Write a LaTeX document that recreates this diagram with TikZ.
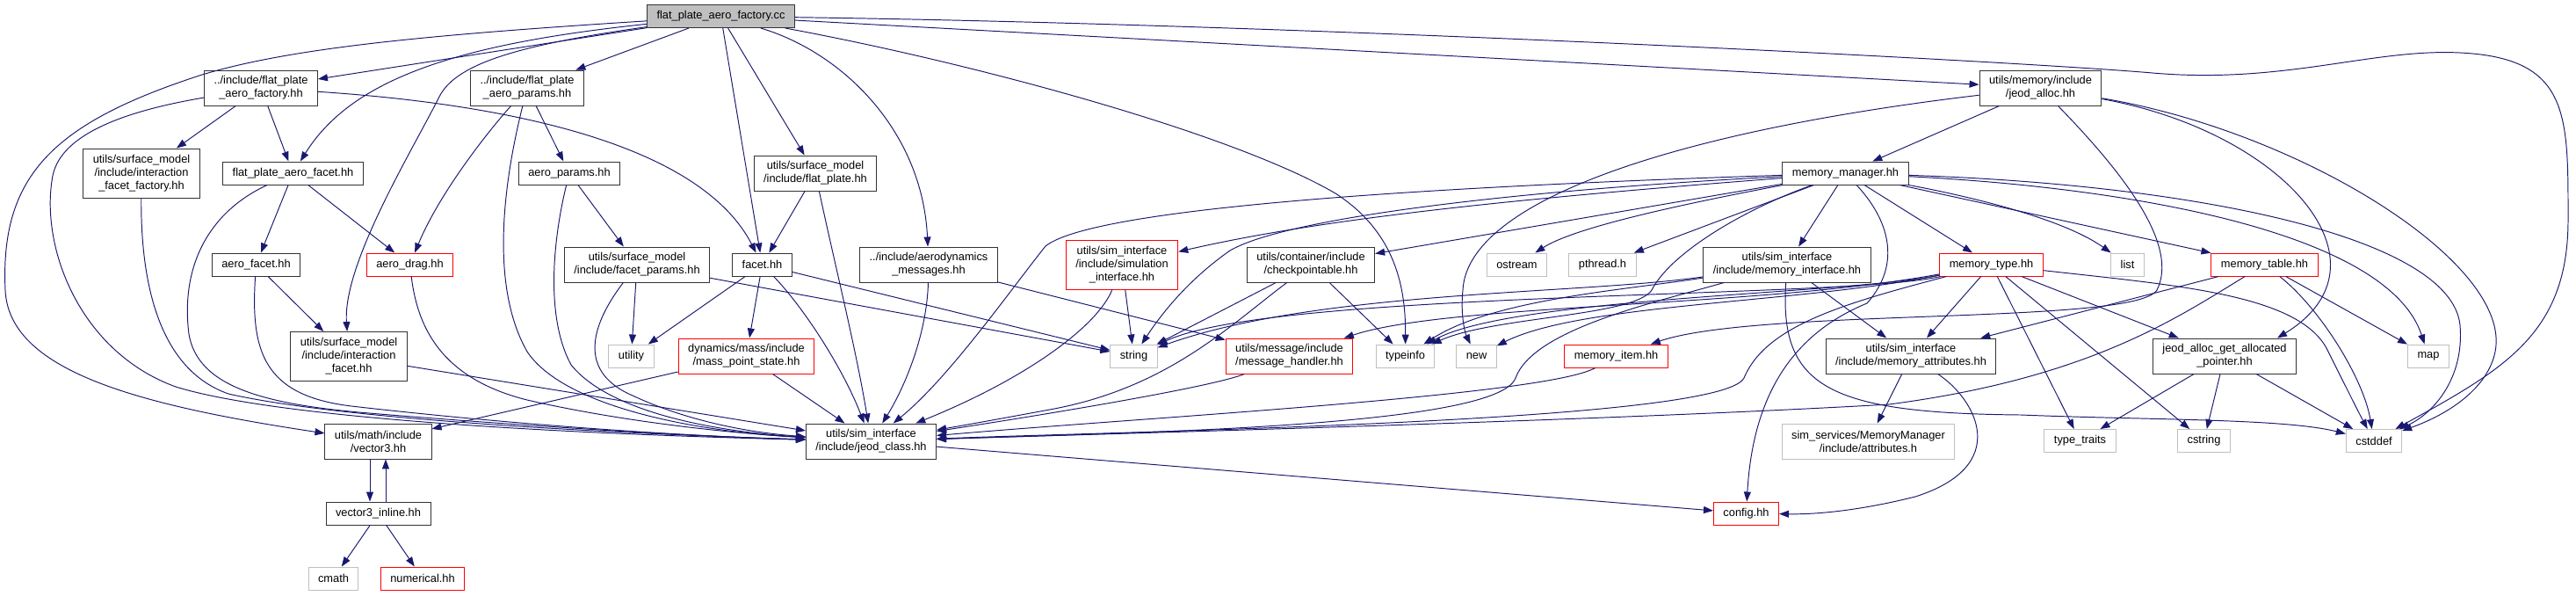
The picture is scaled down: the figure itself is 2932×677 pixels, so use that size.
\documentclass[tikz,border=0pt]{standalone}
\usepackage{fontspec}
\newfontfamily\dotfont{Liberation Sans}
\usetikzlibrary{arrows.meta}
\definecolor{bleunuit}{RGB}{25,25,112}
\definecolor{grisbord}{RGB}{191,191,191}
\definecolor{grisfond}{RGB}{191,191,191}

\begin{document}
\begin{tikzpicture}[
    x=0.02cm, y=-0.02cm,  % une unité = un pixel de l'image
    boite/.style={draw=black!80, fill=white, line width=0.55pt, align=center,
        inner xsep=0.22cm, inner ysep=0pt, font=\dotfont\fontsize{7.3}{8.5}\selectfont},
    gris/.style={boite, draw=grisbord},
    rouge/.style={boite, draw=red},
    racine/.style={boite, fill=grisfond},
    l1/.style={minimum height=0.52cm},
    l2/.style={minimum height=0.8cm},
    l3/.style={minimum height=1.12cm},
    dep/.style={draw=bleunuit, line width=0.55pt, -{Triangle[length=0.22cm,width=0.16cm]}}
]
\useasboundingbox (0,0) rectangle (2932,677);

% Racine
\node[racine, l1] (factorycc) at (820.5,18.5) {flat\_plate\_aero\_factory.cc};

% Niveau 1
\node[boite, l2] (factoryhh) at (297,100) {../include/flat\_plate\\\_aero\_factory.hh};
\node[boite, l2] (paramshh) at (600,100) {../include/flat\_plate\\\_aero\_params.hh};
\node[boite, l2] (jeodalloc) at (2322.5,100) {utils/memory/include\\/jeod\_alloc.hh};

% Niveau 2
\node[boite, l3] (facetfactory) at (161,197) {utils/surface\_model\\/include/interaction\\\_facet\_factory.hh};
\node[boite, l1] (fpfacet) at (333.5,197) {flat\_plate\_aero\_facet.hh};
\node[boite, l1] (aeroparams) at (648,197) {aero\_params.hh};
\node[boite, l2] (flatplate) at (928,197) {utils/surface\_model\\/include/flat\_plate.hh};
\node[boite, l1] (memmanager) at (2100.5,197) {memory\_manager.hh};

% Niveau 3
\node[boite, l1] (aerofacet) at (291.5,301) {aero\_facet.hh};
\node[rouge, l1] (aerodrag) at (466.5,301) {aero\_drag.hh};
\node[boite, l2] (facetparams) at (725,301) {utils/surface\_model\\/include/facet\_params.hh};
\node[boite, l1] (facet) at (867.5,301) {facet.hh};
\node[boite, l2] (aeromsg) at (1057,301) {../include/aerodynamics\\\_messages.hh};
\node[rouge, l3] (siminterface) at (1277,301) {utils/sim\_interface\\/include/simulation\\\_interface.hh};
\node[boite, l2] (checkpointable) at (1492,301) {utils/container/include\\/checkpointable.hh};
\node[gris, l1] (ostream) at (1726.5,301) {ostream};
\node[gris, l1] (pthread) at (1824,301) {pthread.h};
\node[boite, l2] (meminterface) at (2034,301) {utils/sim\_interface\\/include/memory\_interface.hh};
\node[rouge, l1] (memtype) at (2266.5,301) {memory\_type.hh};
\node[gris, l1] (list) at (2421.5,301) {list};
\node[rouge, l1] (memtable) at (2577.5,301) {memory\_table.hh};

% Niveau 4
\node[boite, l3] (interfacet) at (397,405.5) {utils/surface\_model\\/include/interaction\\\_facet.hh};
\node[gris, l1] (utility) at (718.5,405) {utility};
\node[rouge, l2] (masspoint) at (849.5,405) {dynamics/mass/include\\/mass\_point\_state.hh};
\node[gris, l1] (string) at (1290.5,405) {string};
\node[rouge, l2] (msghandler) at (1467.5,405) {utils/message/include\\/message\_handler.hh};
\node[gris, l1] (typeinfo) at (1599.5,405) {typeinfo};
\node[gris, l1] (new) at (1680.5,405) {new};
\node[rouge, l1] (memitem) at (1839.5,405) {memory\_item.hh};
\node[boite, l2] (memattr) at (2175,405) {utils/sim\_interface\\/include/memory\_attributes.hh};
\node[boite, l2] (allocptr) at (2532,405) {jeod\_alloc\_get\_allocated\\\_pointer.hh};
\node[gris, l1] (map) at (2764,405) {map};

% Niveau 5
\node[boite, l2] (vector3) at (430.5,502) {utils/math/include\\/vector3.hh};
\node[boite, l2] (jeodclass) at (991.5,502) {utils/sim\_interface\\/include/jeod\_class.hh};
\node[gris, l2] (attributes) at (2126.5,502) {sim\_services/MemoryManager\\/include/attributes.h};
\node[gris, l1] (typetraits) at (2367.5,501.5) {type\_traits};
\node[gris, l1] (cstring) at (2508.5,501.5) {cstring};
\node[gris, l1] (cstddef) at (2702,501.5) {cstddef};

% Niveaux 6 et 7
\node[boite, l1] (v3inline) at (430.5,584) {vector3\_inline.hh};
\node[rouge, l1] (config) at (1987.5,584) {config.hh};
\node[gris, l1] (cmath) at (379.5,658) {cmath};
\node[rouge, l1] (numerical) at (481,658) {numerical.hh};

% Dépendances de la racine
\draw[dep] (factorycc) .. controls (480,40) and (330,55) .. (230,85) .. controls (60,140) and (0,200) .. (6,330) .. controls (10,420) and (150,460) .. (vector3);
\draw[dep] (factorycc) -- (factoryhh);
\draw[dep] (factorycc) .. controls (520,50) and (400,90) .. (fpfacet);
\draw[dep] (factorycc) .. controls (600,50) and (520,70) .. (500,110) .. controls (470,170) and (390,300) .. (interfacet);
\draw[dep] (factorycc) -- (paramshh);
\draw[dep] (factorycc) -- (facet);
\draw[dep] (factorycc) -- (flatplate);
\draw[dep] (factorycc) .. controls (960,60) and (1050,150) .. (aeromsg);
\draw[dep] (factorycc) .. controls (1100,70) and (1400,150) .. (1520,220) .. controls (1590,265) and (1600,330) .. (typeinfo);
\draw[dep] (factorycc) -- (jeodalloc);
\draw[dep] (factorycc) .. controls (1500,28) and (2300,70) .. (2450,83) .. controls (2600,96) and (2700,55) .. (2800,60) .. controls (2925,66) and (2923,130) .. (2923,250) .. controls (2923,380) and (2850,420) .. (cstddef);

% Partie aérodynamique
\draw[dep] (factoryhh) -- (facetfactory);
\draw[dep] (factoryhh) -- (fpfacet);
\draw[dep] (factoryhh) .. controls (600,120) and (800,170) .. (facet);
\draw[dep] (factoryhh) .. controls (150,125) and (70,150) .. (60,200) .. controls (45,280) and (90,400) .. (200,440) .. controls (330,480) and (700,495) .. (jeodclass);
\draw[dep] (facetfactory) .. controls (160,320) and (180,420) .. (260,448) .. controls (400,480) and (750,495) .. (jeodclass);
\draw[dep] (fpfacet) -- (aerofacet);
\draw[dep] (fpfacet) -- (aerodrag);
\draw[dep] (fpfacet) .. controls (240,240) and (205,300) .. (215,380) .. controls (225,440) and (300,460) .. (420,470) .. controls (600,485) and (800,497) .. (jeodclass);
\draw[dep] (paramshh) .. controls (555,150) and (500,220) .. (aerodrag);
\draw[dep] (paramshh) -- (aeroparams);
\draw[dep] (paramshh) .. controls (570,220) and (560,330) .. (600,400) .. controls (640,460) and (780,490) .. (jeodclass);
\draw[dep] (aeroparams) -- (facetparams);
\draw[dep] (aeroparams) .. controls (630,270) and (620,360) .. (650,415) .. controls (690,465) and (800,490) .. (jeodclass);
\draw[dep] (flatplate) -- (facet);
\draw[dep] (flatplate) .. controls (950,300) and (975,400) .. (jeodclass);
\draw[dep] (aerofacet) -- (interfacet);
\draw[dep] (aerofacet) .. controls (285,400) and (300,450) .. (400,462) .. controls (600,485) and (800,497) .. (jeodclass);
\draw[dep] (aerodrag) .. controls (475,370) and (500,430) .. (600,455) .. controls (700,478) and (820,492) .. (jeodclass);
\draw[dep] (facetparams) -- (utility);
\draw[dep] (facetparams) .. controls (680,360) and (650,420) .. (720,450) .. controls (780,478) and (850,492) .. (jeodclass);
\draw[dep] (facetparams) -- (string);
\draw[dep] (facet) -- (utility);
\draw[dep] (facet) -- (masspoint);
\draw[dep] (facet) .. controls (915,350) and (960,420) .. (jeodclass);
\draw[dep] (facet) -- (string);
\draw[dep] (aeromsg) .. controls (1055,380) and (1030,440) .. (jeodclass);
\draw[dep] (aeromsg) -- (msghandler);
\draw[dep] (interfacet) -- (jeodclass);
\draw[dep] (masspoint) -- (vector3);
\draw[dep] (masspoint) -- (jeodclass);
\draw[dep] ([xshift=-0.19cm]vector3.south) -- ([xshift=-0.19cm]v3inline.north);
\draw[dep] ([xshift=0.17cm]v3inline.north) -- ([xshift=0.17cm]vector3.south);
\draw[dep] (v3inline) -- (cmath);
\draw[dep] (v3inline) -- (numerical);
\draw[dep] (jeodclass) -- (config);

% Interfaces de simulation
\draw[dep] (siminterface) .. controls (1250,370) and (1170,430) .. (jeodclass);
\draw[dep] (siminterface) -- (string);
\draw[dep] (checkpointable) -- (string);
\draw[dep] (checkpointable) .. controls (1400,370) and (1330,440) .. (1200,465) .. controls (1130,478) and (1090,485) .. (jeodclass);
\draw[dep] (checkpointable) -- (typeinfo);
\draw[dep] (msghandler) .. controls (1380,440) and (1200,470) .. (jeodclass);
\draw[dep] (memitem) .. controls (1760,450) and (1300,475) .. (jeodclass);

% Gestionnaire de mémoire
\draw[dep] (jeodalloc) -- (memmanager);
\draw[dep] (jeodalloc) .. controls (1900,150) and (1670,230) .. (1665,330) .. controls (1662,360) and (1668,380) .. (new);
\draw[dep] (jeodalloc) .. controls (2600,150) and (2730,300) .. ([xshift=1.2cm]allocptr.north);
\draw[dep] (jeodalloc) .. controls (2620,150) and (2860,300) .. (2840,400) .. controls (2832,440) and (2790,470) .. (cstddef);
\draw[dep] (jeodalloc) .. controls (2420,200) and (2480,280) .. (2455,330) .. controls (2430,370) and (2000,350) .. (memitem);
\draw[dep] (memmanager) .. controls (1700,210) and (1250,232) .. (1190,280) .. controls (1150,330) and (1080,430) .. (jeodclass);
\draw[dep] (memmanager) .. controls (1700,218) and (1460,250) .. (1400,285) .. controls (1350,320) and (1320,360) .. (string);
\draw[dep] (memmanager) .. controls (1700,228) and (1500,250) .. (siminterface);
\draw[dep] (memmanager) -- (checkpointable);
\draw[dep] (memmanager) .. controls (1900,235) and (1790,260) .. (ostream);
\draw[dep] (memmanager) -- (pthread);
\draw[dep] (memmanager) -- (meminterface);
\draw[dep] (memmanager) -- (memtype);
\draw[dep] (memmanager) .. controls (2250,225) and (2350,250) .. (list);
\draw[dep] (memmanager) -- (memtable);
\draw[dep] (memmanager) .. controls (2450,215) and (2720,270) .. (map);
\draw[dep] (memmanager) .. controls (2500,210) and (2790,270) .. (2800,370) .. controls (2805,430) and (2770,470) .. (cstddef);
\draw[dep] (memmanager) .. controls (2150,250) and (2165,300) .. (2125,345) .. controls (2040,380) and (1995,450) .. (config);
\draw[dep] (memmanager) .. controls (1980,240) and (1900,290) .. (1880,330) .. controls (1860,360) and (1700,360) .. (typeinfo);
\draw[dep] (meminterface) -- (memattr);
\draw[dep] (meminterface) .. controls (2025,440) and (2080,470) .. (2300,472) .. controls (2450,478) and (2600,476) .. (cstddef);
\draw[dep] (meminterface) .. controls (1800,335) and (1500,330) .. (string);
\draw[dep] (meminterface) .. controls (1850,330) and (1700,340) .. (typeinfo);
\draw[dep] (meminterface) .. controls (1880,345) and (1745,375) .. (1725,430) .. controls (1705,485) and (1300,492) .. (jeodclass);
\draw[dep] (memtype) -- (memattr);
\draw[dep] (memtype) -- (allocptr);
\draw[dep] (memtype) -- (typetraits);
\draw[dep] (memtype) -- (cstring);
\draw[dep] (memtype) .. controls (2480,325) and (2620,335) .. (2650,400) .. controls (2670,440) and (2685,470) .. (cstddef);
\draw[dep] (memtype) .. controls (2100,340) and (1450,330) .. (string);
\draw[dep] (memtype) .. controls (2100,335) and (1720,338) .. (typeinfo);
\draw[dep] (memtype) .. controls (2050,345) and (1800,345) .. (new);
\draw[dep] (memtype) .. controls (2000,350) and (1650,345) .. (msghandler);
\draw[dep] (memtype) .. controls (2100,345) and (2010,370) .. (1985,430) .. controls (1960,480) and (1300,490) .. (jeodclass);
\draw[dep] (memtable) -- (memattr);
\draw[dep] (memtable) .. controls (2480,360) and (2380,430) .. (2150,460) .. controls (1800,480) and (1200,495) .. (jeodclass);
\draw[dep] (memtable) -- (map);
\draw[dep] (memtable) .. controls (2640,350) and (2690,430) .. (cstddef);
\draw[dep] (memattr) -- (attributes);
\draw[dep] (memattr) .. controls (2250,455) and (2290,530) .. (2180,565) .. controls (2100,585) and (2050,585) .. (config);
\draw[dep] (allocptr) -- (typetraits);
\draw[dep] (allocptr) -- (cstring);
\draw[dep] (allocptr) -- (cstddef);
\end{tikzpicture}
\end{document}
